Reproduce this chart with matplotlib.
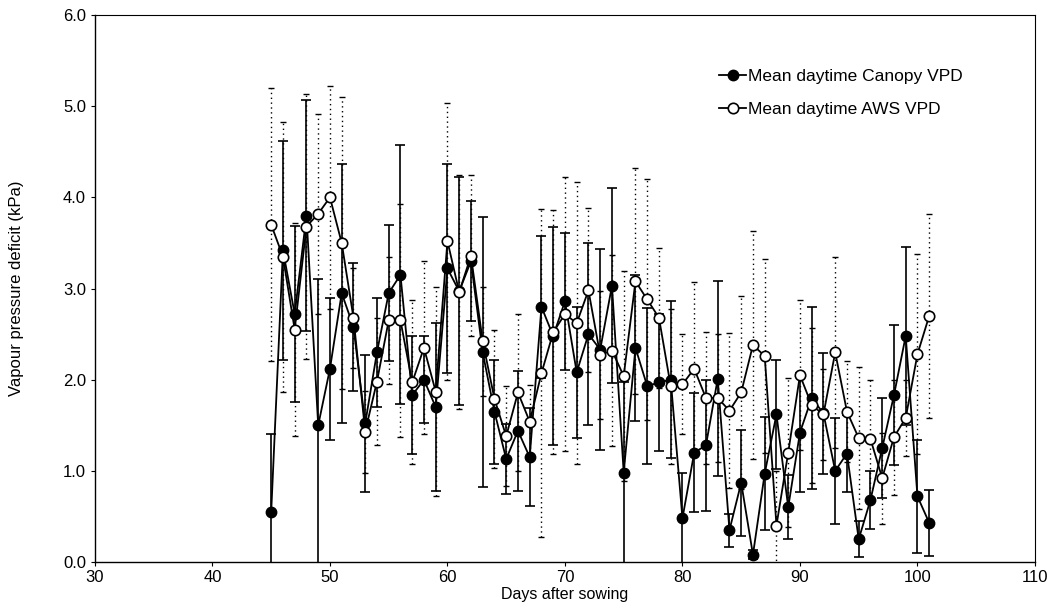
import matplotlib
matplotlib.use("Agg")
import matplotlib.pyplot as plt
import numpy as np

plt.rcParams['font.family'] = ['Liberation Sans', 'DejaVu Sans']

days = list(range(45, 102))

canopy_vpd = [0.55, 3.42, 2.72, 3.80, 1.50, 2.12, 2.95, 2.58, 1.52, 2.30,
              2.95, 3.15, 1.83, 2.00, 1.70, 3.22, 2.97, 3.30, 2.30, 1.65,
              1.13, 1.44, 1.15, 2.80, 2.48, 2.86, 2.08, 2.50, 2.33, 3.03,
              0.98, 2.35, 1.93, 1.97, 2.00, 0.48, 1.20, 1.28, 2.01, 0.35,
              0.87, 0.08, 0.97, 1.62, 0.60, 1.42, 1.80, 1.63, 1.00, 1.19,
              0.25, 0.68, 1.25, 1.83, 2.48, 0.72, 0.43]

canopy_sd = [0.85, 1.20, 0.97, 1.27, 1.60, 0.78, 1.42, 0.70, 0.75, 0.60,
             0.75, 1.42, 0.65, 0.48, 0.92, 1.15, 1.25, 0.66, 1.48, 0.57,
             0.38, 0.66, 0.54, 0.78, 1.20, 0.75, 0.72, 1.00, 1.10, 1.07,
             1.00, 0.80, 0.86, 0.75, 0.86, 0.50, 0.65, 0.72, 1.07, 0.18,
             0.58, 0.05, 0.62, 0.60, 0.35, 0.65, 1.00, 0.66, 0.58, 0.42,
             0.20, 0.32, 0.55, 0.77, 0.98, 0.62, 0.36]

aws_vpd = [3.70, 3.35, 2.55, 3.68, 3.82, 4.00, 3.50, 2.68, 1.43, 1.98,
           2.65, 2.65, 1.97, 2.35, 1.87, 3.52, 2.96, 3.36, 2.42, 1.79,
           1.38, 1.86, 1.54, 2.07, 2.52, 2.72, 2.62, 2.98, 2.27, 2.32,
           2.04, 3.08, 2.88, 2.68, 1.93, 1.95, 2.12, 1.80, 1.80, 1.66,
           1.86, 2.38, 2.26, 0.40, 1.20, 2.05, 1.72, 1.62, 2.30, 1.65,
           1.36, 1.35, 0.92, 1.37, 1.58, 2.28, 2.70]

aws_sd = [1.50, 1.48, 1.17, 1.45, 1.10, 1.22, 1.60, 0.55, 0.45, 0.70,
          0.70, 1.28, 0.90, 0.95, 1.15, 1.52, 1.28, 0.88, 0.60, 0.76,
          0.55, 0.86, 0.40, 1.80, 1.34, 1.50, 1.55, 0.90, 0.70, 1.05,
          1.15, 1.24, 1.32, 0.77, 0.85, 0.55, 0.95, 0.72, 0.70, 0.85,
          1.06, 1.25, 1.06, 0.60, 0.82, 0.82, 0.85, 0.50, 1.05, 0.55,
          0.78, 0.65, 0.50, 0.63, 0.42, 1.10, 1.12]

x_ticks = [30, 40, 50, 60, 70, 80, 90, 100, 110]
y_ticks = [0.0, 1.0, 2.0, 3.0, 4.0, 5.0, 6.0]

fig = plt.figure(figsize=(10.55, 6.02), dpi=100)
ax = fig.add_axes([0.090, 0.0664, 0.891, 0.9086])

# AWS series with dotted error bars
eb2 = ax.errorbar(days, aws_vpd, yerr=aws_sd, fmt='none', ecolor='black',
                  elinewidth=1.0, capsize=2.5, capthick=1.0, zorder=2)
for lc in eb2[2]:
    lc.set_linestyle((0, (1, 2.5)))

# Canopy series with solid error bars
ax.errorbar(days, canopy_vpd, yerr=canopy_sd, fmt='none', ecolor='black',
            elinewidth=1.2, capsize=3.5, capthick=1.2, zorder=3)

ax.plot(days, canopy_vpd, '-', color='black', lw=1.3, marker='o', ms=7.5,
        mfc='black', mec='black', zorder=4, label='Mean daytime Canopy VPD')
ax.plot(days, aws_vpd, '-', color='black', lw=1.3, marker='o', ms=7.5,
        mfc='white', mec='black', mew=1.2, zorder=5, label='Mean daytime AWS VPD')

ax.set_xlim(30, 110)
ax.set_ylim(0, 6)
ax.set_xticks(x_ticks)
ax.set_yticks(y_ticks)
ax.set_yticklabels([f"{v:.1f}" for v in y_ticks])
ax.tick_params(axis='both', labelsize=12, direction='out', length=3, width=0.8)
ax.tick_params(axis='x', pad=3)

for s in ['top', 'right']:
    ax.spines[s].set_linestyle((0, (1, 1)))
    ax.spines[s].set_linewidth(0.8)
for s in ['left', 'bottom']:
    ax.spines[s].set_linewidth(1.0)

ax.set_xlabel('Days after sowing', fontsize=11.5)
ax.xaxis.set_label_coords(0.5, -0.046)
ax.set_ylabel('Vapour pressure deficit (kPa)', fontsize=12, labelpad=28)

ax.legend(loc='upper right', bbox_to_anchor=(0.94, 0.93), frameon=False,
          fontsize=12.5, handlelength=1.6, handletextpad=0.1, labelspacing=1.0)

fig.savefig('out.png', dpi=100)
